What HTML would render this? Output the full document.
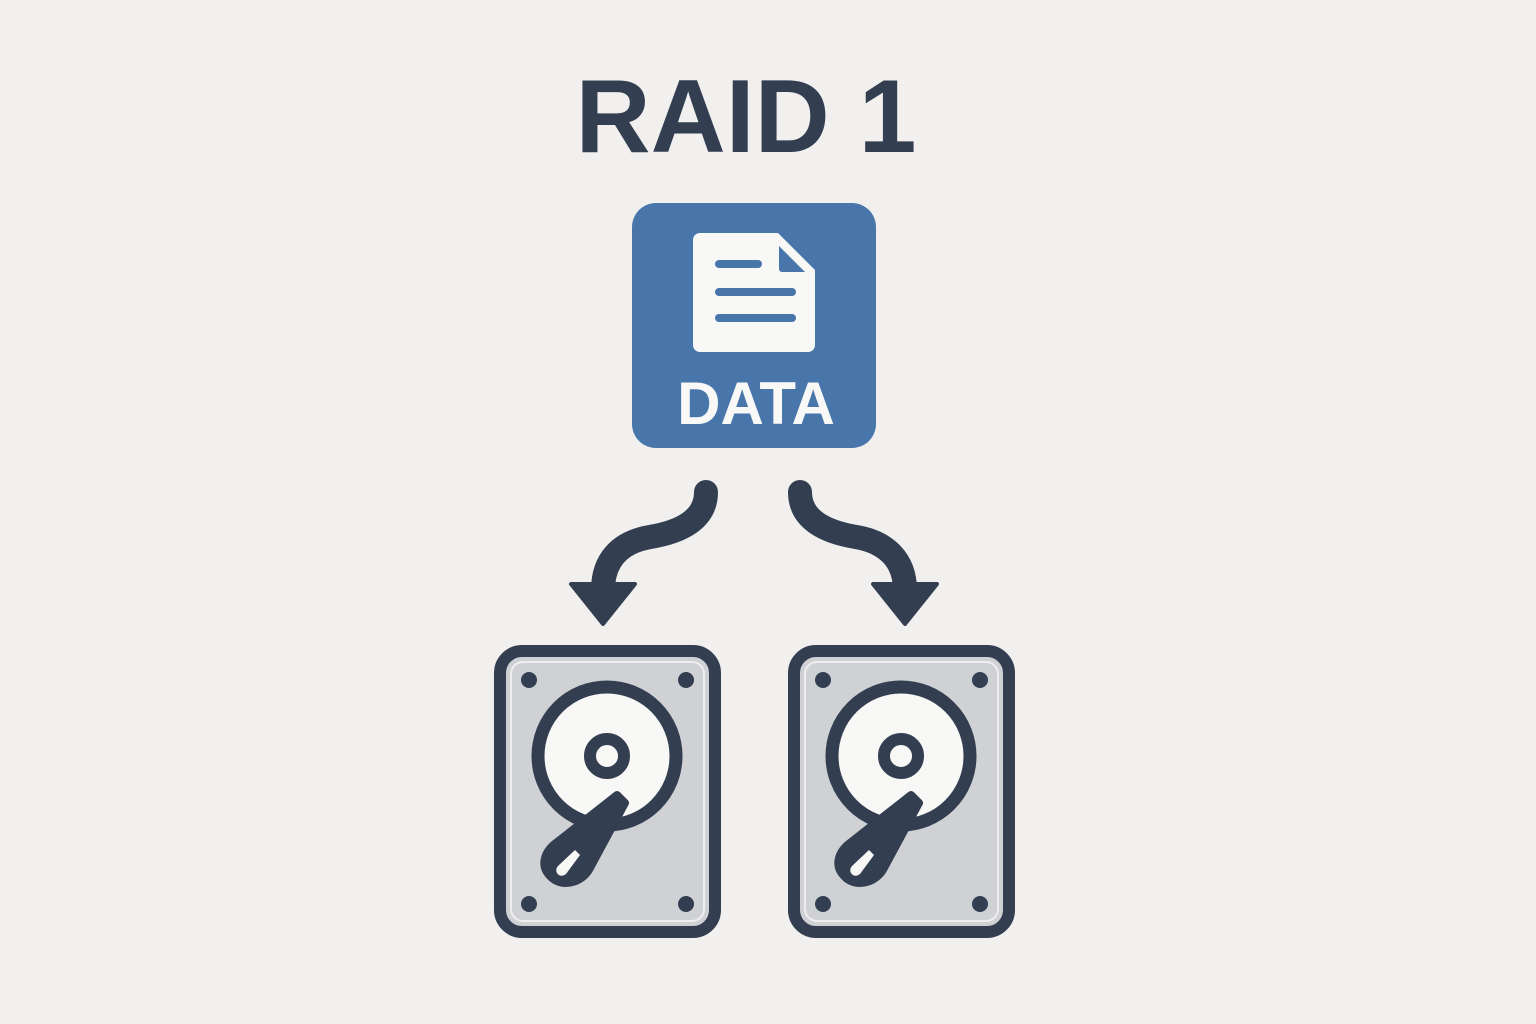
<!DOCTYPE html>
<html><head><style>
html,body{margin:0;padding:0;background:#f1f0ef;}
svg{display:block}
</style></head><body>
<svg width="1536" height="1024" viewBox="0 0 1536 1024" xmlns="http://www.w3.org/2000/svg">
<rect width="1536" height="1024" fill="#f1f0ef"/>
<text x="746" y="152" text-anchor="middle" font-family="Liberation Sans, sans-serif" font-weight="bold" font-size="104" fill="#333f50">RAID 1</text>
<rect x="632" y="203" width="244" height="245" rx="24" fill="#4876ab"/>
<path d="M700 233 H778 L815 270 V345 a7 7 0 0 1 -7 7 H700 a7 7 0 0 1 -7 -7 V240 a7 7 0 0 1 7 -7Z" fill="#f8f8f7"/>
<path d="M779 246 L805 272 H782 a3 3 0 0 1 -3 -3Z" fill="#4876ab"/>
<g stroke="#4876ab" stroke-width="8" stroke-linecap="round">
<line x1="719" y1="264" x2="758" y2="264"/>
<line x1="719" y1="292" x2="792" y2="292"/>
<line x1="719" y1="318" x2="792" y2="318"/>
</g>
<text x="756" y="424" text-anchor="middle" font-family="Liberation Sans, sans-serif" font-weight="bold" font-size="60" fill="#f8f8f7">DATA</text>
<g fill="none" stroke="#333f50" stroke-width="24" stroke-linejoin="round" stroke-linecap="round">
<path d="M706 492 C706 520 680 532 650 537 C620 542 603 560 603 590"/>
<path d="M800 492 C800 520 826 532 856 537 C886 542 905 560 905 590"/>
</g>
<g fill="#333f50" stroke="#333f50" stroke-width="4" stroke-linejoin="round">
<path d="M571 584 H635 L603 624Z"/>
<path d="M873 584 H937 L905 624Z"/>
</g>
<g id="d">
<rect x="500" y="651" width="215" height="281" rx="22" fill="#cfd1d5" stroke="#333f50" stroke-width="12"/>
<rect x="511" y="662" width="193" height="259" rx="12" fill="none" stroke="#eeeeee" stroke-width="2"/>
<circle cx="529" cy="680" r="8" fill="#333f50"/>
<circle cx="686" cy="680" r="8" fill="#333f50"/>
<circle cx="529" cy="904" r="8" fill="#333f50"/>
<circle cx="686" cy="904" r="8" fill="#333f50"/>
<circle cx="607" cy="756" r="69" fill="#f8f8f7" stroke="#333f50" stroke-width="13"/>
<circle cx="607" cy="756" r="17" fill="#f8f8f7" stroke="#333f50" stroke-width="12"/>
<path d="M617 795 L625 803 L590 868 C582 884 560 888 550 876 C540 866 544 852 556 843Z" fill="#333f50" stroke="#333f50" stroke-width="8" stroke-linejoin="round"/>
<path d="M575 850 L558 866 C553 872 560 879 566 874 L580 855Z" fill="#f8f8f7"/>
</g>
<use href="#d" x="294"/>
</svg>
</body></html>
